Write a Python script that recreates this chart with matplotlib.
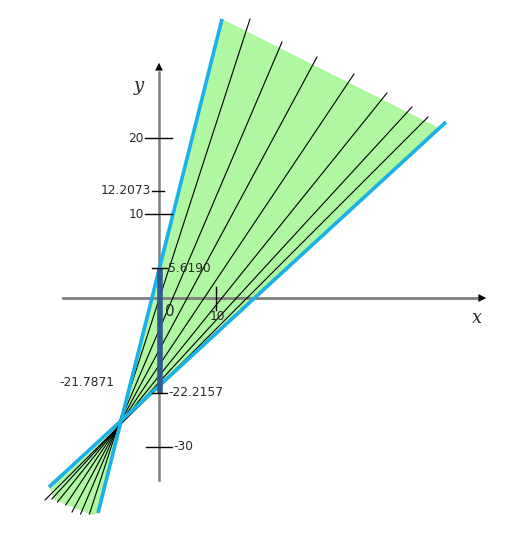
import matplotlib.pyplot as plt
import numpy as np
from matplotlib.patches import Polygon

# schematic diagram, coordinates are in picture units (pixels, y downwards)
W, H = 514, 542
origin = (159, 298)
apex = (117.5, 427.5)

# outer (blue) boundary lines: top end, bottom end
left_edge = [(222, 19), (98, 513)]
right_edge = [(446, 122), (49, 487)]

# pencil of thin black lines through the apex (top ends, and the y where they stop below)
pencil_top_x = [250, 282, 317, 354, 387, 412, 428]
pencil_top_y = [19, 42, 57, 74, 93, 107, 117]
pencil_bot_y = [514, 514, 512, 505, 502, 499, 500]

# y axis ticks: label, position, tick half widths (left, right), label side
ytick_labels = ["20", "12.2073", "10", "5.6190", "-22.2157", "-30"]
ytick_pos = [138, 191, 214, 268, 393, 447]
ytick_left = [14, 7, 14, 7, 7, 13]
ytick_right = [13, 5, 13, 8, 8, 13]
ytick_side = ["l", "l", "l", "r", "r", "r"]

xtick_labels = ["10"]
xtick_pos = [216]

interval = (268, 393)  # y = 5.6190 .. -22.2157 on the y axis

fig = plt.figure(figsize=(W / 100, H / 100), dpi=100)
ax = fig.add_axes([0, 0, 1, 1])
ax.set_xlim(0, W)
ax.set_ylim(H, 0)
ax.axis("off")

green = "#aff7a0"
blue = "#1ab0ea"
tc = "#2a2a2a"
fs = 8.8

# filled cone (upper part and lower part)
upper = Polygon([apex, left_edge[0], (437, 127), right_edge[0]], closed=True,
                facecolor=green, edgecolor="none", zorder=1)
lower = Polygon([apex, left_edge[1], (92, 515), (55, 500), right_edge[1]], closed=True,
                facecolor=green, edgecolor="none", zorder=1)
ax.add_patch(upper)
ax.add_patch(lower)

for tx, ty, by in zip(pencil_top_x, pencil_top_y, pencil_bot_y):
    k = (by - apex[1]) / (apex[1] - ty)
    bx = apex[0] + k * (apex[0] - tx)
    ax.plot([tx, bx], [ty, by], color="k", lw=0.8, zorder=3)

for e in (left_edge, right_edge):
    ax.plot([e[0][0], e[1][0]], [e[0][1], e[1][1]], color=blue, lw=2.6,
            solid_capstyle="butt", zorder=4)

# axes
ax.plot([63, 480], [origin[1], origin[1]], color="#7f7f7f", lw=2, zorder=2)
ax.plot([origin[0], origin[0]], [480, 72], color="#7f7f7f", lw=1.8, zorder=2)
ax.annotate("", xy=(489, origin[1]), xytext=(478, origin[1]),
            arrowprops=dict(arrowstyle="-|>", color="k", lw=0, mutation_scale=14), zorder=5)
ax.annotate("", xy=(origin[0], 60), xytext=(origin[0], 72),
            arrowprops=dict(arrowstyle="-|>", color="k", lw=0, mutation_scale=14), zorder=5)

ax.plot([origin[0] + 0.5, origin[0] + 0.5], list(interval), color="#2e5a8f", lw=4,
        solid_capstyle="butt", zorder=4)

for lab, p, l, r, side in zip(ytick_labels, ytick_pos, ytick_left, ytick_right, ytick_side):
    ax.plot([origin[0] - l, origin[0] + r], [p, p], color="k", lw=1, zorder=5)
    if side == "l":
        ax.text(origin[0] - l - 1, p, lab, ha="right", va="center", fontsize=fs,
                color=tc, zorder=6)
    else:
        ax.text(origin[0] + r + 1, p, lab, ha="left", va="center", fontsize=fs,
                color=tc, zorder=6)

for lab, p in zip(xtick_labels, xtick_pos):
    ax.plot([p, p], [287, 310], color="k", lw=1, zorder=5)
    ax.text(p + 1, 317, lab, ha="center", va="center", fontsize=fs, color=tc, zorder=6)

ax.text(165, 312, "0", ha="left", va="center", fontsize=11, color=tc, zorder=6)
ax.text(59, 383, "-21.7871", ha="left", va="center", fontsize=fs, color=tc)
ax.text(477, 318, "x", ha="center", va="center", fontsize=13, style="italic",
        family="DejaVu Serif", color=tc)
ax.text(139, 86, "y", ha="center", va="center", fontsize=13, style="italic",
        family="DejaVu Serif", color=tc)

fig.savefig("out.png", dpi=100)
